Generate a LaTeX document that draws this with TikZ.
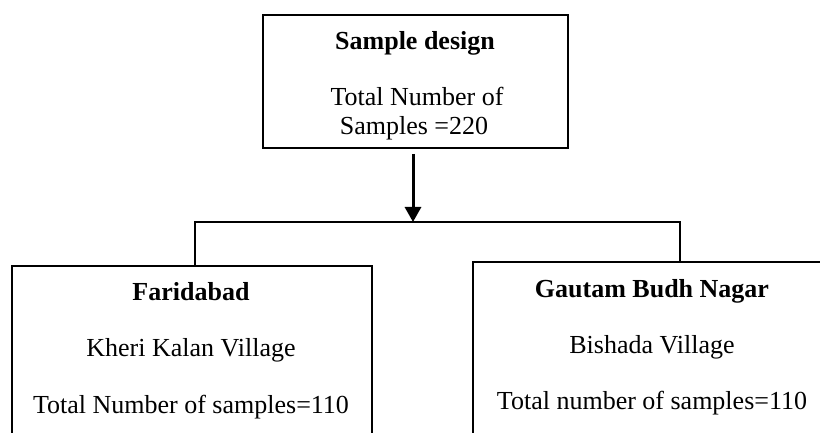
\documentclass[tikz,border=0pt]{standalone}
\usepackage{fontspec}
\setmainfont{Liberation Serif}
\usetikzlibrary{arrows.meta}
\begin{document}
\begin{tikzpicture}[x=1pt,y=-1pt,
  box/.style={draw=black,line width=1.9pt,rectangle,inner sep=0pt},
  txt/.style={anchor=base,inner sep=0pt,font=\fontsize{26}{30}\selectfont},
  head/.style={txt,font=\fontsize{26}{30}\selectfont\bfseries},
  link/.style={line width=1.9pt},
  down/.style={line width=3pt,-{Triangle[length=15pt,width=16pt]}}]
\useasboundingbox (0,0) rectangle (820,433);
\clip (0,0) rectangle (820,433);
\fill[white] (0,0) rectangle (820,433);

% boxes
\node[box,minimum width=305pt,minimum height=133pt] (top) at (415.5,81.5) {};
\node[box,minimum width=360pt,minimum height=214pt] (left) at (192,373) {};
\node[box,minimum width=356pt,minimum height=218pt] (right) at (651,371) {};

% texts of the top box
\node[head] (t1) at (415,50) {Sample design};
\node[txt]  (t2) at (417,106) {Total Number of};
\node[txt]  (t3) at (414,135) {Samples =220};

% texts of the left box
\node[head] (l1) at (191,300) {Faridabad};
\node[txt]  (l2) at (191,356) {Kheri Kalan Village};
\node[txt]  (l3) at (191,413) {Total Number of samples=110};

% texts of the right box
\node[head] (r1) at (652,297) {Gautam Budh Nagar};
\node[txt]  (r2) at (652,353) {Bishada Village};
\node[txt]  (r3) at (652,409) {Total number of samples=110};

% connectors
\coordinate (split) at (413,222);
\coordinate (jl) at (195,222);
\coordinate (jr) at (680,222);
\draw[down] ([xshift=-2.5pt,yshift=-5pt]top.south) -- (split);
\draw[link] (jl |- left.north) -- (jl) -- (jr) -- (jr |- right.north);
\end{tikzpicture}
\end{document}
